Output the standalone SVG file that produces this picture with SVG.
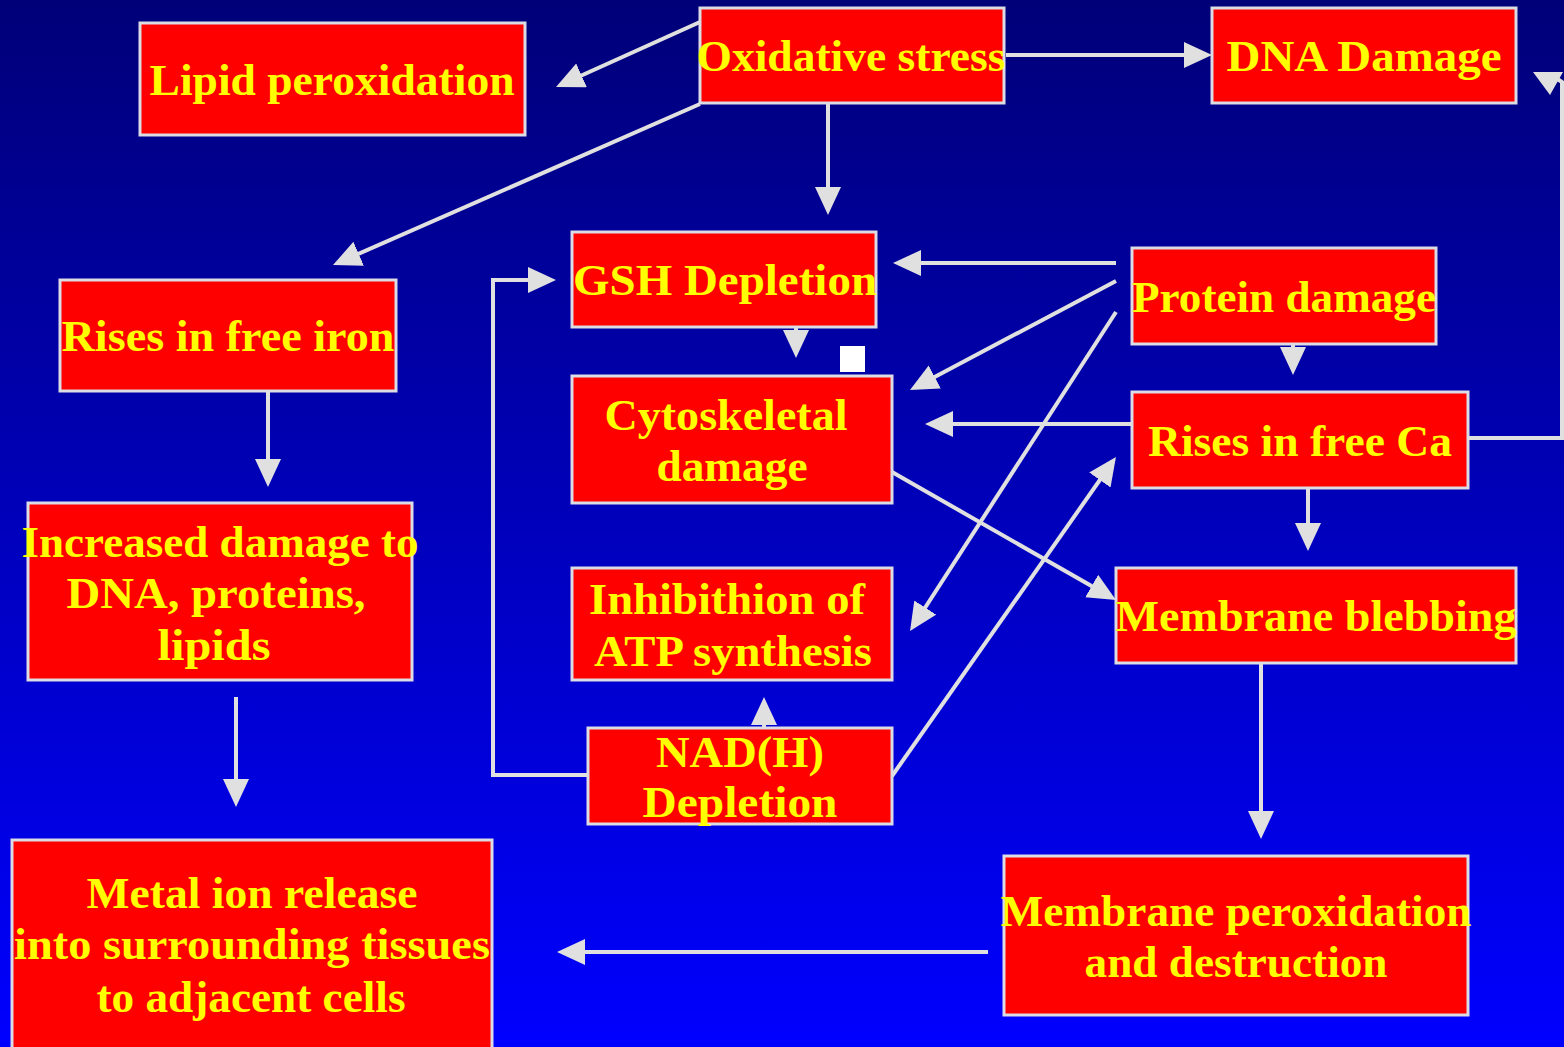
<svg xmlns="http://www.w3.org/2000/svg" width="1564" height="1047" viewBox="0 0 1564 1047">
<defs>
<linearGradient id="bg" x1="0" y1="0" x2="0" y2="1">
<stop offset="0" stop-color="#000078"/>
<stop offset="1" stop-color="#0000FF"/>
</linearGradient>
<marker id="ah" markerUnits="userSpaceOnUse" markerWidth="30" markerHeight="28" refX="22" refY="13" orient="auto" viewBox="0 0 30 28">
<path d="M0,0 L28,13 L0,26 Z" fill="#E0E0E0"/>
</marker>
</defs>
<style>
.box{fill:#FF0000;stroke:#DCDCE4;stroke-width:3}
.t{font-family:"Liberation Serif","Times New Roman",serif;font-weight:bold;font-size:44px;fill:#FFFF00;text-anchor:middle}
.c{fill:none;stroke:#E0E0E0;stroke-width:4}
.a{marker-end:url(#ah)}
</style>
<rect x="0" y="0" width="1564" height="1047" fill="url(#bg)"/>

<g id="connectors">
<line class="c a" x1="700" y1="22" x2="561.5" y2="84.5"/>
<line class="c a" x1="700" y1="104" x2="338.5" y2="262.6"/>
<line class="c a" x1="1006" y1="55" x2="1206" y2="55"/>
<line class="c a" x1="828" y1="104" x2="828" y2="209"/>
<line class="c a" x1="1116" y1="263" x2="899" y2="263"/>
<line class="c a" x1="1116" y1="281" x2="915.3" y2="387.2"/>
<line class="c a" x1="1116" y1="312" x2="913.3" y2="626"/>
<line class="c a" x1="1293" y1="345" x2="1293" y2="369"/>
<line class="c a" x1="1132" y1="424" x2="931" y2="424"/>
<polyline class="c" points="1468,438 1562,438 1562,82 1556,78"/>
<polygon points="1533,72 1563,72 1550,95" fill="#E0E0E0"/>
<line class="c a" x1="1308" y1="488" x2="1308" y2="545"/>
<line class="c a" x1="892" y1="472" x2="1110.8" y2="597"/>
<line class="c a" x1="892" y1="776" x2="1112.5" y2="462"/>
<line class="c a" x1="764" y1="728" x2="764" y2="703"/>
<polyline class="c a" points="588,775 493,775 493,280 550,280"/>
<line class="c a" x1="796" y1="328" x2="796" y2="352"/>
<line class="c a" x1="268" y1="392" x2="268" y2="481"/>
<line class="c a" x1="236" y1="697" x2="236" y2="801"/>
<line class="c a" x1="1261" y1="663" x2="1261" y2="833"/>
<line class="c a" x1="988" y1="952" x2="563" y2="952"/>
</g>

<rect x="840" y="346" width="25" height="26" fill="#FFFFFF"/>

<g id="lipid"><rect class="box" x="140" y="23" width="385" height="112"/>
<text class="t" x="332" y="95" textLength="365" lengthAdjust="spacingAndGlyphs">Lipid peroxidation</text></g>

<g id="oxidative"><rect class="box" x="700" y="8" width="304" height="95"/>
<text class="t" x="851" y="71" textLength="309" lengthAdjust="spacingAndGlyphs">Oxidative stress</text></g>

<g id="dna"><rect class="box" x="1212" y="8" width="304" height="95"/>
<text class="t" x="1364" y="71" textLength="275" lengthAdjust="spacingAndGlyphs">DNA Damage</text></g>

<g id="gsh"><rect class="box" x="572" y="232" width="304" height="95"/>
<text class="t" x="725" y="295" textLength="304" lengthAdjust="spacingAndGlyphs">GSH Depletion</text></g>

<g id="protein"><rect class="box" x="1132" y="248" width="304" height="96"/>
<text class="t" x="1284" y="312" textLength="304" lengthAdjust="spacingAndGlyphs">Protein damage</text></g>

<g id="iron"><rect class="box" x="60" y="280" width="336" height="111"/>
<text class="t" x="228" y="351" textLength="333" lengthAdjust="spacingAndGlyphs">Rises in free iron</text></g>

<g id="cyto"><rect class="box" x="572" y="376" width="320" height="127"/>
<text class="t" x="726" y="430" textLength="243" lengthAdjust="spacingAndGlyphs">Cytoskeletal</text>
<text class="t" x="732" y="481" textLength="151" lengthAdjust="spacingAndGlyphs">damage</text></g>

<g id="ca"><rect class="box" x="1132" y="392" width="336" height="96"/>
<text class="t" x="1300" y="456" textLength="304" lengthAdjust="spacingAndGlyphs">Rises in free Ca</text></g>

<g id="increased"><rect class="box" x="28" y="503" width="384" height="177"/>
<text class="t" x="220" y="557" textLength="397" lengthAdjust="spacingAndGlyphs">Increased damage to</text>
<text class="t" x="216" y="608" textLength="299" lengthAdjust="spacingAndGlyphs">DNA, proteins,</text>
<text class="t" x="214" y="660" textLength="113" lengthAdjust="spacingAndGlyphs">lipids</text></g>

<g id="atp"><rect class="box" x="572" y="568" width="320" height="112"/>
<text class="t" x="727" y="614" textLength="276" lengthAdjust="spacingAndGlyphs">Inhibithion of</text>
<text class="t" x="733" y="666" textLength="278" lengthAdjust="spacingAndGlyphs">ATP synthesis</text></g>

<g id="blebbing"><rect class="box" x="1116" y="568" width="400" height="95"/>
<text class="t" x="1316" y="631" textLength="401" lengthAdjust="spacingAndGlyphs">Membrane blebbing</text></g>

<g id="nad"><rect class="box" x="588" y="728" width="304" height="96"/>
<text class="t" x="740" y="767" textLength="168" lengthAdjust="spacingAndGlyphs">NAD(H)</text>
<text class="t" x="740" y="817" textLength="195" lengthAdjust="spacingAndGlyphs">Depletion</text></g>

<g id="metal"><rect class="box" x="12" y="840" width="480" height="215"/>
<text class="t" x="252" y="908" textLength="331" lengthAdjust="spacingAndGlyphs">Metal ion release</text>
<text class="t" x="252" y="959" textLength="476" lengthAdjust="spacingAndGlyphs">into surrounding tissues</text>
<text class="t" x="251" y="1012" textLength="309" lengthAdjust="spacingAndGlyphs">to adjacent cells</text></g>

<g id="membrane-perox"><rect class="box" x="1004" y="856" width="464" height="159"/>
<text class="t" x="1236" y="926" textLength="471" lengthAdjust="spacingAndGlyphs">Membrane peroxidation</text>
<text class="t" x="1236" y="977" textLength="303" lengthAdjust="spacingAndGlyphs">and destruction</text></g>
</svg>
